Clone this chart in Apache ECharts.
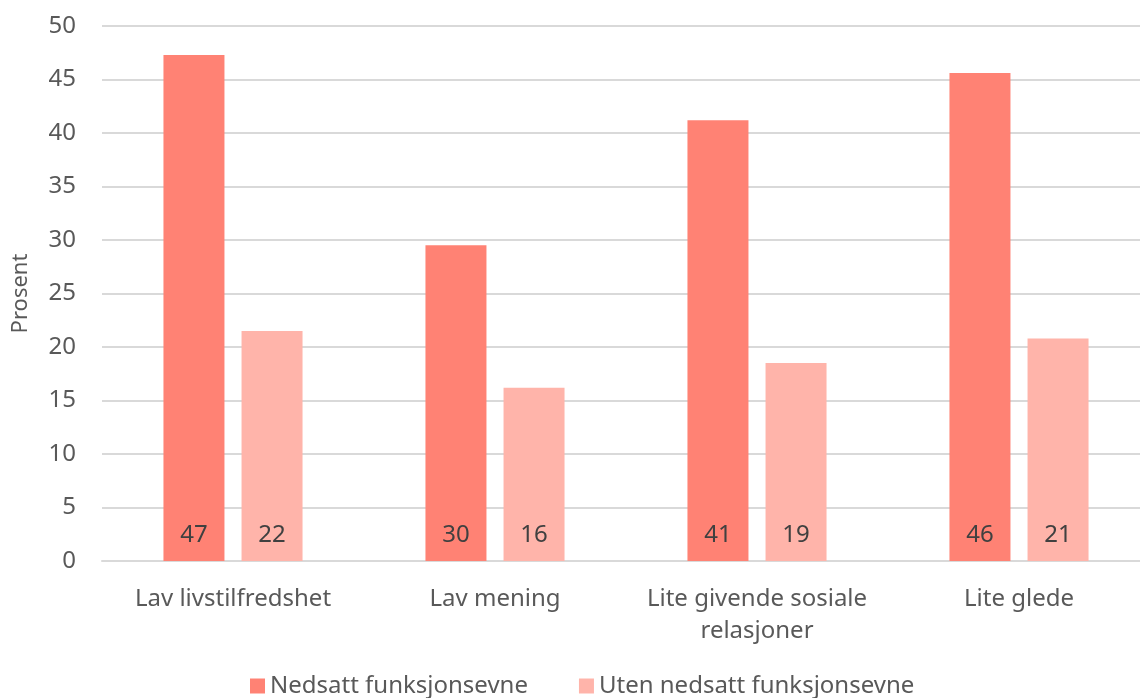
<!DOCTYPE html>
<html>
<head>
<meta charset="utf-8">
<script src="https://cdn.jsdelivr.net/npm/echarts@6/dist/echarts.min.js"></script>
<style>html,body{margin:0;padding:0;background:#fff;}#c{width:1140px;height:698px;}</style>
</head>
<body>
<div id="c"></div>
<script>
const categories = ['Lav livstilfredshet', 'Lav mening', 'Lite givende sosiale\nrelasjoner', 'Lite glede'];
const seriesNames = ['Nedsatt funksjonsevne', 'Uten nedsatt funksjonsevne'];
const nedsatt = [47.3, 29.5, 41.2, 45.6];
const uten = [21.5, 16.2, 18.5, 20.8];
const yTicks = [0, 5, 10, 15, 20, 25, 30, 35, 40, 45, 50];

const FONT = '"Noto Sans", sans-serif';
const chart = echarts.init(document.getElementById('c'));
const labelCfg = {
  show: true, position: 'insideBottom', distance: 14,
  formatter: p => Math.round(p.value), color: '#404040', fontSize: 24, fontFamily: FONT
};
chart.setOption({
  animation: false,
  textStyle: { fontFamily: FONT },
  grid: { left: 102, right: -10, top: 26, bottom: 137, containLabel: false, outerBoundsMode: 'none' },
  legend: {
    bottom: -5, left: 245, itemWidth: 15, itemHeight: 15, itemGap: 51,
    icon: 'rect',
    textStyle: { fontSize: 24, color: '#595959', fontFamily: FONT },
    data: seriesNames
  },
  xAxis: {
    type: 'category', data: categories,
    axisLine: { lineStyle: { color: '#d9d9d9', width: 2 } },
    axisTick: { show: false },
    axisLabel: { interval: 0, fontSize: 24, color: '#595959', margin: 22, lineHeight: 32, fontFamily: FONT }
  },
  yAxis: {
    type: 'value', min: yTicks[0], max: yTicks[yTicks.length - 1], interval: 5,
    name: 'Prosent', nameLocation: 'middle', nameGap: 70, nameRotate: 90,
    nameTextStyle: { fontSize: 22, color: '#595959', fontFamily: FONT },
    axisLine: { show: false }, axisTick: { show: false },
    axisLabel: { fontSize: 24, color: '#595959', margin: 26, fontFamily: FONT },
    splitLine: { lineStyle: { color: '#d9d9d9', width: 2 } }
  },
  series: [
    { name: seriesNames[0], type: 'bar', data: nedsatt, barWidth: 61, barGap: '28%',
      itemStyle: { color: '#FF8274' }, label: labelCfg },
    { name: seriesNames[1], type: 'bar', data: uten, barWidth: 61,
      itemStyle: { color: '#FFB4AA' }, label: labelCfg }
  ]
});
</script>
</body>
</html>
